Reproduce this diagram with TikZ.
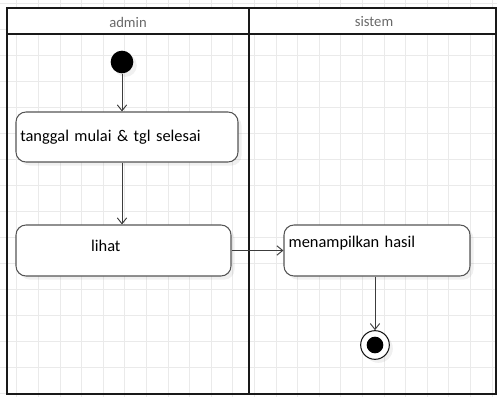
\documentclass[tikz,border=0pt]{standalone}
\usepackage{fontspec}
\setmainfont{Carlito}
\usetikzlibrary{arrows.meta,shadows}
\definecolor{laneBlack}{RGB}{25,25,25}
\definecolor{gridGray}{RGB}{234,234,234}
\definecolor{headGray}{RGB}{105,105,105}
\definecolor{boxGray}{RGB}{85,85,85}
\definecolor{arrowGray}{RGB}{60,60,60}

\tikzset{
  actbox/.style={draw=boxGray, fill=white, line width=0.9pt, rounded corners=0.3cm, inner xsep=0.12cm,
    align=left, drop shadow={opacity=0.12, shadow xshift=3pt, shadow yshift=-3pt}},
  flow/.style={-{Straight Barb[length=5pt,width=8pt]}, arrowGray, line width=0.8pt}
}

\begin{document}
\begin{tikzpicture}[x=0.03cm, y=-0.03cm, every node/.style={font=\fontsize{14}{16}\selectfont}]
  \useasboundingbox (0,0) rectangle (497,397);
  % Grid
  \foreach \i in {0,...,22} \draw[gridGray, line width=0.6pt] ({16.8+21.6*\i},0) -- ({16.8+21.6*\i},397);
  \foreach \j in {0,...,15} \draw[gridGray, line width=0.6pt] (0,{3+26*\j}) -- (497,{3+26*\j});

  % Swimlanes
  \fill[white] (7,8) rectangle (496,34);
  \draw[laneBlack, line width=1.8pt] (7,8) rectangle (496,394);
  \draw[laneBlack, line width=1.8pt] (7,34) -- (496,34);
  \draw[laneBlack, line width=1.8pt] (249,8) -- (249,394);
  \node[text=headGray, font=\fontsize{12.5}{14}\selectfont] (admin) at (128,22) {admin};
  \node[text=headGray, font=\fontsize{12.5}{14}\selectfont] (sistem) at (374,22) {sistem};

  % Start
  \node[circle, fill=black, minimum size=0.68cm, inner sep=0, drop shadow={opacity=0.12, shadow xshift=3pt, shadow yshift=-3pt}] (start) at (122,62) {};

  % Activities
  \node[actbox, minimum width=6.66cm, minimum height=1.5cm, text width=6.4cm] (tanggal) at (127,137) {tanggal mulai \& tgl selesai};
  \node[actbox, minimum width=6.45cm, minimum height=1.53cm, text width=6.2cm, text depth=0.28cm] (lihat) at (123.5,250.5) {\hspace*{2.13cm}lihat};
  \node[actbox, minimum width=5.58cm, minimum height=1.53cm, text width=5.3cm, text depth=0.55cm] (hasil) at (377,250.5) {menampilkan hasil};

  % End
  \node[circle, draw=laneBlack, fill=white, line width=0.9pt, minimum size=0.86cm, inner sep=0, drop shadow={opacity=0.12, shadow xshift=3pt, shadow yshift=-3pt}] (end) at (375,345) {};
  \node[circle, fill=black, minimum size=0.5cm, inner sep=0] (endDot) at (end.center) {};

  % Arrows
  \draw[flow] (start) -- (start |- tanggal.north);
  \draw[flow] (start |- tanggal.south) -- (start |- lihat.north);
  \draw[flow] (lihat.east) -- (hasil.west);
  \draw[flow] (end |- hasil.south) -- (end.north);
\end{tikzpicture}
\end{document}
